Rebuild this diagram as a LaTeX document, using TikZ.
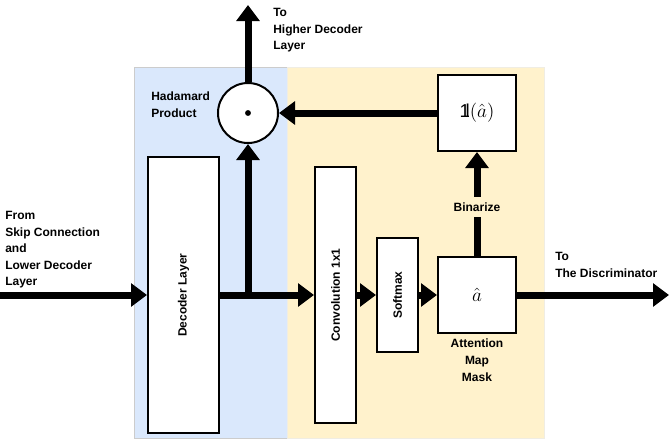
\documentclass[tikz,border=0pt]{standalone}
\usepackage{fontspec}
\setmainfont{Liberation Sans}
\usetikzlibrary{arrows.meta}
\definecolor{decblue}{HTML}{DAE8FC}
\definecolor{attyellow}{HTML}{FFF2CC}
\newcommand{\indic}{\mathrm{1}\mkern-4mu\mathrm{l}}
\begin{document}
\begin{tikzpicture}[x=0.75pt, y=-0.75pt, line cap=butt,
    box/.style={draw, line width=1.5pt, fill=white, inner sep=0pt},
    flow/.style={line width=5.25pt, -{Triangle[length=12pt, width=17pt]}},
    lbl/.style={font=\bfseries\fontsize{9}{12.4}\selectfont, align=left, inner sep=0pt},
    mth/.style={font=\fontsize{14}{16}\selectfont}]
  \useasboundingbox (0,0) rectangle (669,440);
  % Two regions.
  \draw[draw=black!20, fill=decblue] (134,67) rectangle (287,438);
  \draw[draw=attyellow!80!black!30, fill=attyellow] (287,67) rectangle (544,438);
  % Boxes.
  \node[box, minimum width=53.25pt, minimum height=207pt] (dec) at (183.5,295) {};
  \node[box, minimum width=30.75pt, minimum height=192pt] (conv) at (335.5,295) {};
  \node[box, minimum width=30.75pt, minimum height=85.5pt] (soft) at (397.5,295) {};
  \node[box, minimum width=58.5pt, minimum height=57pt, mth] (amap) at (477,295) {$\hat{a}$};
  \node[box, minimum width=58.5pt, minimum height=57pt, mth] (bin) at (477,113) {$\indic(\hat{a})$};
  \node[box, circle, minimum size=45pt] (prod) at (248,113) {};
  \fill (prod.center) circle (2.2pt);
  \node[lbl, rotate=90] at (dec.center) {Decoder Layer};
  \node[lbl, rotate=90] at (conv.center) {Convolution 1x1};
  \node[lbl, rotate=90] at (soft.center) {Softmax};
  % Ends.
  \coordinate (in) at (0,295);
  \coordinate (split) at (248,295);
  \coordinate (up) at (248,5);
  \coordinate (disc) at (669,295);
  % Arrows.
  \draw[flow] (in) -- (dec.west);
  \draw[flow] (dec.east) -- (conv.west);
  \draw[flow] (split) -- (prod.south);
  \draw[flow] (conv.east) -- (soft.west);
  \draw[flow] (soft.east) -- (amap.west);
  \draw[flow] (amap.east) -- (disc);
  \draw[flow] (amap.north) -- (bin.south)
    node[pos=0.47, lbl, fill=attyellow, inner ysep=4pt, inner xsep=2pt] {Binarize};
  \draw[flow] (bin.west) -- (prod.east);
  \draw[flow] (prod.north) -- (up);
  % Labels.
  \node[lbl, anchor=north west] at (273,8) {To\\Higher Decoder\\Layer};
  \node[lbl, anchor=north west] at (151,92) {Hadamard\\Product};
  \node[lbl, anchor=north west] at (5,211) {From\\Skip Connection\\\mbox{and}\\Lower Decoder\\Layer};
  \node[lbl, anchor=north west] at (555,252) {To\\The Discriminator};
  \node[lbl, align=center, anchor=north] at (477,339) {Attention\\Map\\Mask};
\end{tikzpicture}
\end{document}
